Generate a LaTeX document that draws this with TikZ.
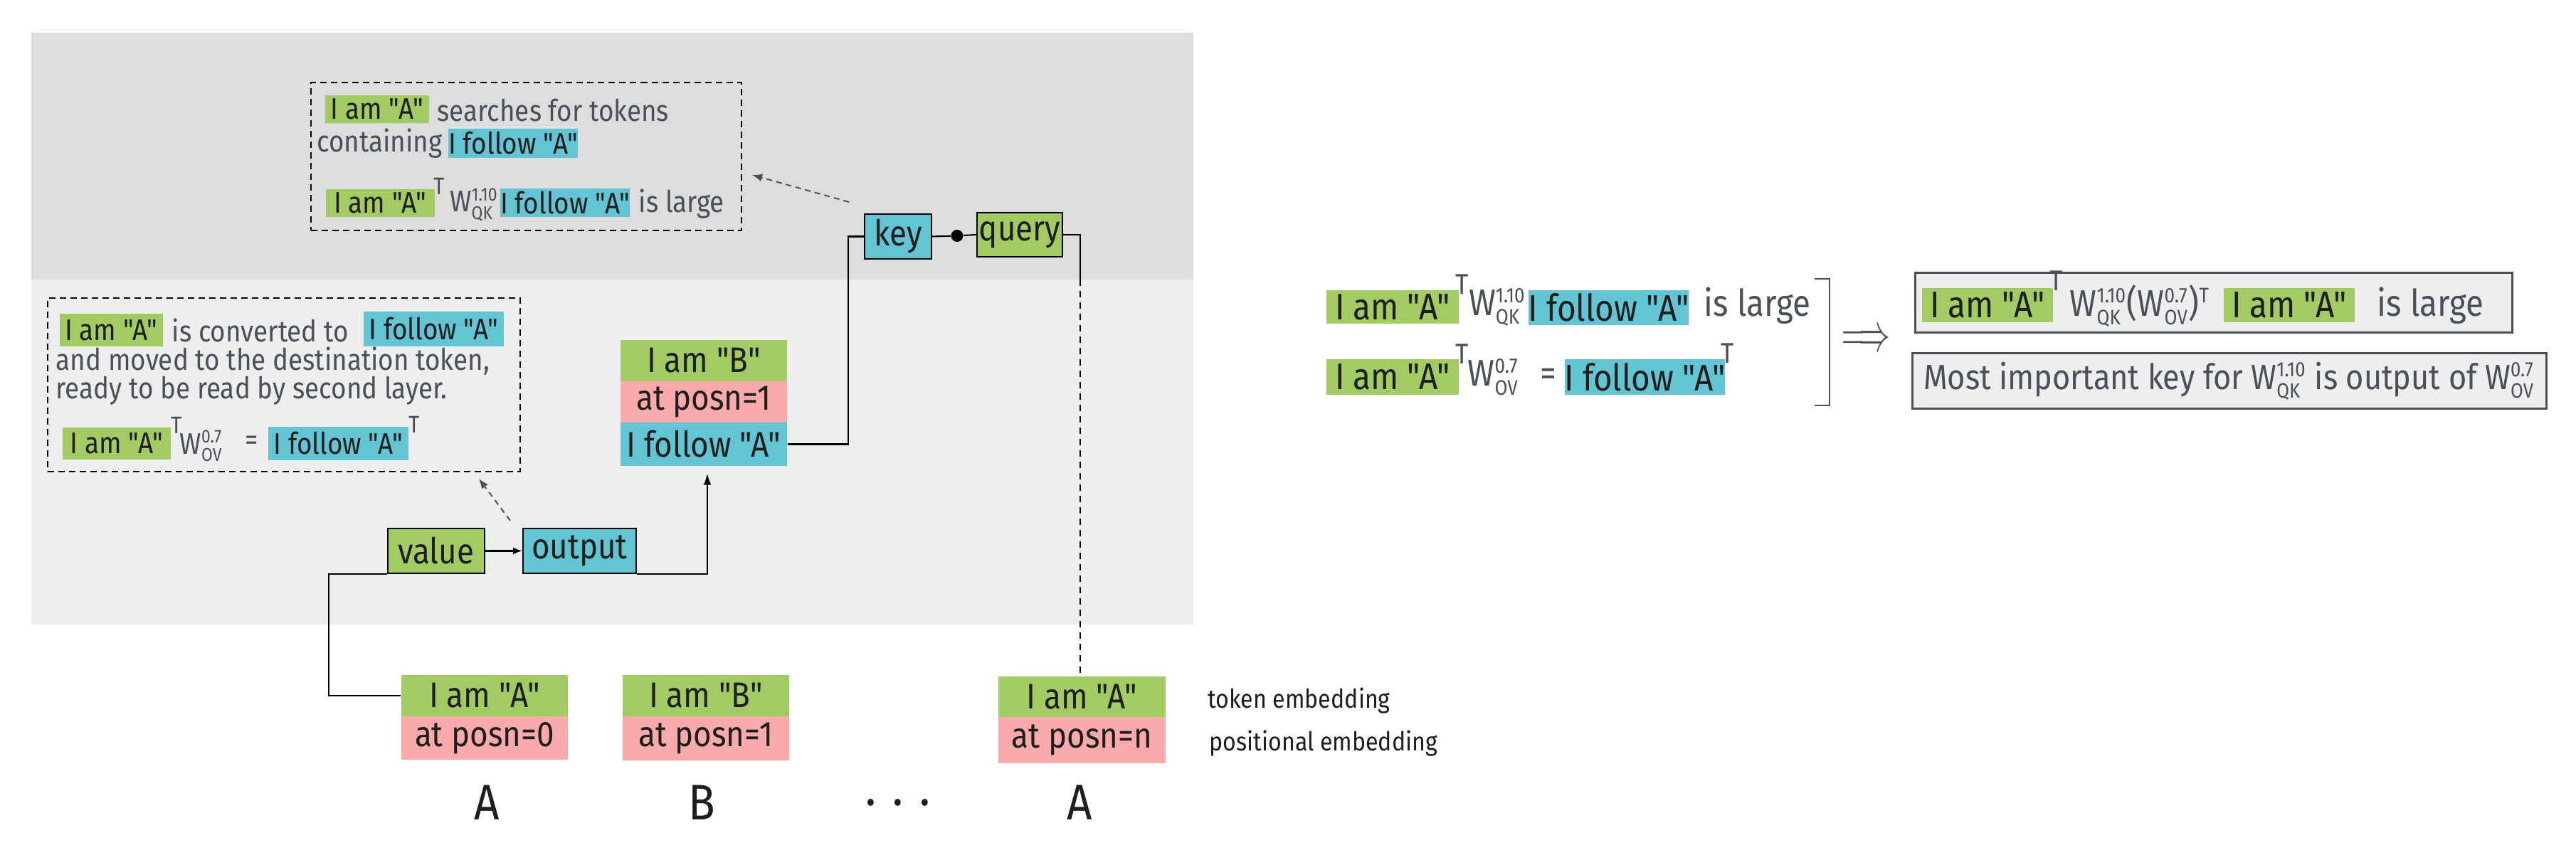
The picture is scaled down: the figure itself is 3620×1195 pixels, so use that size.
\documentclass[tikz,border=0pt]{standalone}
\usepackage{fontspec}
\usepackage{amsmath}
\usepackage{graphicx}
\newfontfamily\fira{Fira Sans}[Ligatures=TeXOff, FakeStretch=0.88]
\usetikzlibrary{arrows.meta,calc}
\DeclareMathSizes{11.9}{11.9}{7.4}{5.5}
\DeclareMathSizes{14}{14}{8.3}{6.2}
\DeclareMathSizes{14.8}{14.8}{8.4}{6.3}
\definecolor{grn}{HTML}{A2CB63}
\definecolor{blu}{HTML}{63C5D4}
\definecolor{pnk}{HTML}{FAAAAA}
\definecolor{bgdark}{HTML}{DDDDDD}
\definecolor{bglight}{HTML}{EEEEEE}
\definecolor{txt}{HTML}{495057}
\definecolor{ink}{HTML}{1E1E1E}
\newcommand{\Wmat}[2]{W$^{\text{#1}}_{\text{#2}}$}
\newcommand{\fa}{\fira\fontsize{11.9}{14.3}\selectfont}
\newcommand{\fla}{\fira\fontsize{10.4}{12.5}\selectfont}
\newcommand{\fl}{\fira\fontsize{14.2}{17}\selectfont}
\newcommand{\fr}{\fira\fontsize{14.8}{17.8}\selectfont}
\newcommand{\frs}{\fira\fontsize{14}{16.8}\selectfont}
\newcommand{\fsup}{\fira\fontsize{9.6}{11.5}\selectfont}
\newcommand{\fsupr}{\fira\fontsize{11.4}{13.7}\selectfont}
\newcommand{\fbig}{\fira\fontsize{20}{24}\selectfont}
\begin{document}
\begin{tikzpicture}[x=0.01cm,y=-0.01cm,
  box/.style 2 args={draw=none, inner sep=0pt, minimum width={#1*0.01cm}, minimum height={#2*0.01cm}, text=ink},
  gbox/.style 2 args={box={#1}{#2}, fill=grn},
  bbox/.style 2 args={box={#1}{#2}, fill=blu},
  pbox/.style 2 args={box={#1}{#2}, fill=pnk},
  opbox/.style 2 args={box={#1}{#2}, draw=black, line width=0.6pt, font=\fl},
  dbox/.style 2 args={box={#1}{#2}, draw=black, line width=0.55pt, dash pattern=on 0.09cm off 0.06cm},
  resbox/.style 2 args={box={#1}{#2}, draw=txt, fill=bglight, line width=0.85pt},
  gtext/.style={inner sep=0pt, text=txt, anchor=west},
  suptext/.style={inner sep=0pt, text=txt, font=\fsup},
  conn/.style={draw=black, line width=0.6pt},
  garrow/.style={draw=txt, line width=0.55pt, dash pattern=on 0.08cm off 0.06cm, -{Latex[length=0.14cm,width=0.11cm]}},
  blab/.style={inner sep=0pt, text=ink},
]
\useasboundingbox (0,0) rectangle (3620,1195);
% backgrounds
\fill[bgdark] (44,46) rectangle (1677,393);
\fill[bglight] (44,393) rectangle (1677,878);

% ---------- top annotation ----------
\node[dbox={605}{208}] (ann1) at (739.5,220) {};
\node[gbox={146}{39}, font=\fa] (a1g1) at (530,153.5) {I am "A"};
\node[gtext, font=\fa] (a1t1) at (614,155) {searches for tokens};
\node[gtext, font=\fa, anchor=east] (a1t2) at (622,202) {containing};
\node[bbox={182}{41}, font=\fa] (a1b1) at (721,201.5) {I follow "A"};
\node[gbox={153}{39}, font=\fa] (a1g2) at (534.5,285.5) {I am "A"};
\node[suptext] (a1T) at (617,262) {T};
\node[gtext, font=\fa, anchor=east] (a1W) at (701,288) {\Wmat{1.10}{QK}};
\node[bbox={176}{40}, font=\fa] (a1b2) at (794,285) {I follow "A"};
\node[gtext, font=\fa] (a1t3) at (897,287) {is large};

% ---------- left annotation ----------
\node[dbox={664}{244}] (ann2) at (399,541) {};
\node[gbox={145}{46}, font=\fa] (a2g1) at (156.5,464) {I am "A"};
\node[gtext, font=\fa] (a2t1) at (241,464) {is converted to};
\node[bbox={197}{49}, font=\fa] (a2b1) at (609.5,462.5) {I follow "A"};
\node[gtext, font=\fa] (a2t2) at (78,508) {and moved to the destination token,};
\node[gtext, font=\fa] (a2t3) at (78,549) {ready to be read by second layer.};
\node[gbox={152}{45}, font=\fa] (a2g2) at (164,623.5) {I am "A"};
\node[suptext] (a2T1) at (248,598) {T};
\node[gtext, font=\fa] (a2W) at (252,627) {\Wmat{0.7}{OV}};
\node[inner sep=0pt, text=txt, font=\fa] (a2eq) at (354,623) {=};
\node[bbox={197}{47}, font=\fa] (a2b2) at (475.5,623.5) {I follow "A"};
\node[suptext] (a2T2) at (582,597) {T};

% ---------- residual stack at destination ----------
\node[gbox={234}{58}, font=\fl] (sg) at (989,507) {I am "B"};
\node[pbox={234}{58}, font=\fl] (sp) at (989,565) {at posn=1};
\node[bbox={234}{61}, font=\fl] (sb) at (989,624.5) {I follow "A"};

% ---------- key / query ----------
\node[opbox={94}{63}, fill=blu] (key) at (1262,332.5) {key};
\node[opbox={120}{62}, fill=grn] (query) at (1433,330) {query};
\node[circle, fill=black, inner sep=0pt, minimum size=0.17cm] (dot) at (1345,331.5) {};

% ---------- value / output ----------
\node[opbox={136}{63}, fill=grn] (value) at (613,774.5) {value};
\node[opbox={159}{63}, fill=blu] (output) at (814.5,774.5) {output};

% ---------- token embeddings ----------
\node[gbox={234}{58}, font=\fl] (t1g) at (681,978) {I am "A"};
\node[pbox={234}{61}, font=\fl] (t1p) at (681,1037.5) {at posn=0};
\node[gbox={234}{58}, font=\fl] (t2g) at (992,978) {I am "B"};
\node[pbox={234}{62}, font=\fl] (t2p) at (992,1038) {at posn=1};
\node[gbox={235}{57}, font=\fl] (t3g) at (1520.5,979.5) {I am "A"};
\node[pbox={235}{65}, font=\fl] (t3p) at (1520.5,1040.5) {at posn=n};

\node[blab, anchor=west, font=\fla] (ltok) at (1697,985) {token embedding};
\node[blab, anchor=west, font=\fla] (lpos) at (1699,1045) {positional embedding};

\node[blab, font=\fbig] (cA1) at (684,1128) {A};
\node[blab, font=\fbig] (cB) at (986,1128) {B};
\node[blab, font=\fbig] (cdots) at (1262,1128) {.\,\,.\,\,.};
\node[blab, font=\fbig] (cA2) at (1517,1128) {A};

% ---------- connectors ----------
\coordinate (qturn) at (1518,330);
\coordinate (qsplit) at (1518,393);
\draw[conn] (sb.east) -- ++(85,0) |- (key.west);
\draw[conn] (key.east) -- (dot) -- (query.west);
\draw[conn] (query.east) -- (qturn) -- (qsplit);
\draw[conn, dash pattern=on 0.09cm off 0.07cm] (qsplit) -- (qsplit |- t3g.north);
\draw[conn] (t1g.west) -- ++(-101,0) |- (value.south west);
\draw[conn, -{Latex[length=0.13cm,width=0.1cm]}] (value.east) -- (output.west);
\draw[conn, shorten >=0.1cm, -{Latex[length=0.16cm,width=0.11cm]}] (output.south east) -| ($(sb.south)+(5,0)$);

\coordinate (d1s) at (1193,284);
\coordinate (d1e) at (1057,246);
\draw[garrow] (d1s) -- (d1e);
\coordinate (d2s) at (717,732);
\coordinate (d2e) at (673,673);
\draw[garrow] (d2s) -- (d2e);

% ---------- right side ----------
\node[gbox={186}{47}, font=\fr] (rg1) at (1957,431.5) {I am "A"};
\node[suptext, font=\fsupr] (rT1) at (2055,400) {T};
\node[gtext, font=\fr, anchor=east] (rW1) at (2145,432) {\Wmat{1.10}{QK}};
\node[bbox={211}{49}, font=\fr] (rb1) at (2260.5,432.5) {I follow "A"};
\node[gtext, font=\fr] (rt1) at (2394,430) {is large};

\node[gbox={186}{50}, font=\fr] (rg2) at (1957,530) {I am "A"};
\node[suptext, font=\fsupr] (rT2) at (2055,498) {T};
\node[gtext, font=\fr] (rW2) at (2062,530) {\Wmat{0.7}{OV}};
\node[inner sep=0pt, text=txt, font=\fr] (req) at (2176,530) {=};
\node[bbox={215}{50}, font=\fr] (rb2) at (2311.5,530) {I follow "A"};
\node[suptext, font=\fsupr] (rT3) at (2428,497) {T};

\coordinate (brt) at (2571,392);
\coordinate (brb) at (2571,570);
\draw[draw=txt, line width=0.7pt] ($(brt)+(-21,0)$) -- (brt) -- (brb) -- ($(brb)+(-21,0)$);
\node[inner sep=0pt, text=txt, font=\fontsize{17}{20}\selectfont] (impl) at (2622,480) {\scalebox{0.72}[1.25]{$\Longrightarrow$}};

\node[resbox={839}{84}] (res1) at (3110.5,426) {};
\node[gbox={184}{48}, font=\fr] (r1g1) at (2793,429) {I am "A"};
\node[suptext, font=\fsupr] (r1T) at (2890,395) {T};
\node[gtext, font=\fr] (r1W) at (2908,430) {\Wmat{1.10}{QK}(\Wmat{0.7}{OV})$^{\text{T}}$};
\node[gbox={184}{48}, font=\fr] (r1g2) at (3217,429) {I am "A"};
\node[gtext, font=\fr] (r1t) at (3340,430) {is large};

\node[resbox={891}{78}, text=txt, font=\frs] (res2) at (3132.5,536) {Most important key for \Wmat{1.10}{QK} is output of \Wmat{0.7}{OV}};
\end{tikzpicture}
\end{document}
